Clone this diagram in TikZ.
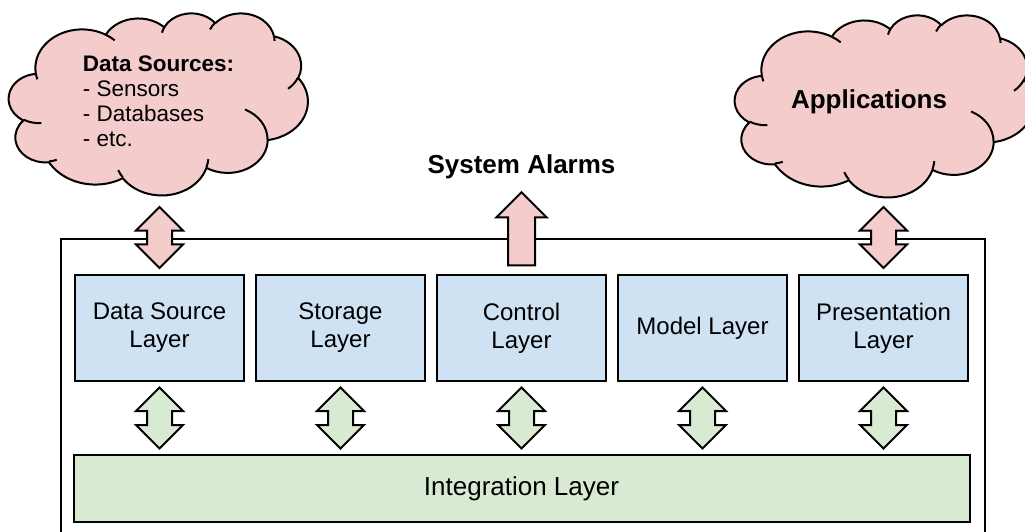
\documentclass[tikz,border=0pt]{standalone}
\usepackage{fontspec}
\setmainfont{Liberation Sans}
\usetikzlibrary{positioning, shapes.arrows, calc}

\definecolor{cloudpink}{HTML}{F4CCCC}
\definecolor{layerblue}{HTML}{CFE2F3}
\definecolor{layergreen}{HTML}{D9EAD3}

\tikzset{
  layer/.style={draw, line width=2pt, fill=layerblue, minimum width=169pt,
    minimum height=106pt, align=center, font=\fontsize{24}{28}\selectfont},
  bus/.style={layer, fill=layergreen, minimum width=896pt, minimum height=67pt,
    font=\fontsize{26}{30}\selectfont},
  cloudframe/.style={minimum width=299pt, minimum height=182pt, inner sep=0pt},
  cloudline/.style={line width=2pt, line join=round},
  dblarrow/.style={double arrow, draw, line width=2pt, rotate=90,
    inner xsep=0pt, inner ysep=11.5pt, minimum height=61pt,
    double arrow head extend=11pt},
  uparrow/.style={single arrow, draw, line width=2pt, rotate=90, fill=cloudpink,
    inner xsep=0pt, inner ysep=12.5pt, minimum height=73pt,
    single arrow head extend=11.5pt},
  boldtext/.style={font=\bfseries\fontsize{26}{30}\selectfont}
}

% cloud outline: elliptic arcs in a 432 x 432 box, y pointing down
\newcommand\cloudat[1]{%
  \begin{scope}[shift={(#1.north west)}, xscale=299/432, yscale=-182/432]
    \gdef\cloudpath{}%
    \foreach \wr/\hr/\st/\sw in {67.53/91.90/-190.487/123.781,
        53.33/72.67/-144.102/89.945, 43.65/59.45/-145.808/99.723,
        48.57/65.95/-130.986/117.242, 53.33/72.73/-78.709/109.027,
        67.75/92.20/-46.267/130.269, 57.85/78.67/0.625/114.033,
        67.52/92.15/22.452/115.173, 77.20/105.43/66.243/75.711,
        43.60/59.18/-274.942/146.736, 43.45/59.45/-246.829/152.519}{
      \pgfmathsetmacro\ta{atan2(\wr*sin(\st),\hr*cos(\st))}
      \pgfmathsetmacro\tr{atan2(\wr*sin(\st+\sw),\hr*cos(\st+\sw))}
      \pgfmathsetmacro\tb{\tr+360*round((\ta+\sw-\tr)/360)}
      \xdef\cloudpath{\cloudpath arc[x radius=\wr, y radius=\hr,
        start angle=\ta, end angle=\tb]}
    }
    \draw[cloudline, fill=cloudpink] (39,143.7) \cloudpath -- cycle;
    % small curls inside the cloud
    \foreach \px/\py/\wr/\hr/\st/\sw in {46.93/261.77/43.45/59.45/86.742/26.430,
        69.28/348.99/43.60/59.18/73.610/11.447,
        164.78/390.90/67.52/92.15/137.624/14.081,
        288.27/347.51/67.52/92.15/6.453/15.998,
        341.29/229.54/57.85/78.67/-70.292/70.917,
        417.98/153.54/53.33/72.73/30.318/27.752,
        383.24/54.26/48.57/65.95/-13.744/14.859,
        290.78/39.52/48.57/65.95/-149.181/18.195,
        221.41/47.20/43.65/59.45/-163.494/17.686,
        140.00/51.92/67.53/91.90/-66.707/12.319,
        41.27/157.89/67.53/91.90/157.654/11.858}{
      \pgfmathsetmacro\ta{atan2(\wr*sin(\st),\hr*cos(\st))}
      \pgfmathsetmacro\tr{atan2(\wr*sin(\st+\sw),\hr*cos(\st+\sw))}
      \pgfmathsetmacro\tb{\tr+360*round((\ta+\sw-\tr)/360)}
      \draw[cloudline] (\px,\py) arc[x radius=\wr, y radius=\hr,
        start angle=\ta, end angle=\tb];
    }
  \end{scope}}

\begin{document}
\begin{tikzpicture}[x=1pt,y=1pt,node distance=10pt]
\useasboundingbox (0,0) rectangle (1025,531);

% outer frame of the system
\draw[line width=2pt] (61,292) rectangle (985,-20);

% layers
\node[layer] (dsl) at (159.5,203) {Data Source\\Layer};
\node[layer] (sto) [right=of dsl] {Storage\\Layer};
\node[layer] (ctl) [right=of sto] {Control\\Layer};
\node[layer] (mdl) [right=of ctl] {Model Layer};
\node[layer] (pre) [right=of mdl] {Presentation\\Layer};
\node[bus] (intg) [below=72pt of ctl] {Integration Layer};

% clouds
\node[cloudframe] (src) at (158.5,427) {};
\cloudat{src}
\node[align=left, font=\fontsize{22.5}{25}\selectfont] (srctxt)
  at ($(src.center)+(0,3)$)
  {\textbf{Data Sources:}\\- Sensors\\- Databases\\- etc.};
\node[cloudframe] (apps) at (884.5,425) {};
\cloudat{apps}
\node[boldtext] (appstxt) at (869,429) {Applications};

% arrows to the integration layer
\foreach \l in {dsl,sto,ctl,mdl,pre}
  \node[dblarrow, fill=layergreen] (\l-int)
    at ($(\l.south)!0.5!(\l.south |- intg.north)$) {};

% arrows to the outside
\node[dblarrow, fill=cloudpink] (dsl-src) at ($(dsl.north)+(0,36.5)$) {};
\node[dblarrow, fill=cloudpink] (pre-apps) at ($(pre.north)+(0,36.5)$) {};
\node[uparrow] (alarm) at ($(ctl.north)+(0,38.5)$) {};
\node[boldtext] (alarmtxt) at ($(ctl.north)+(0,107)$) {System Alarms};
\end{tikzpicture}
\end{document}
